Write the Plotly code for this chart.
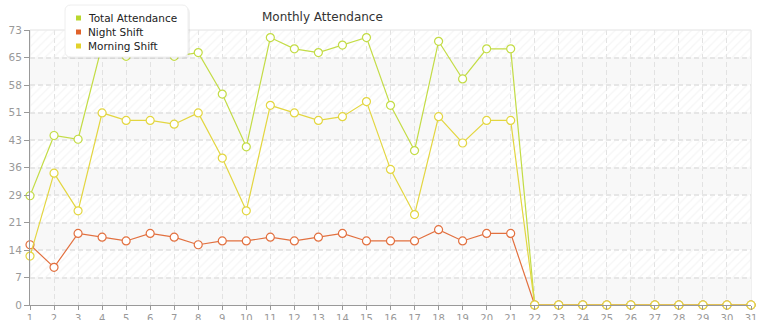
import math
import plotly.graph_objects as go

# ---------------- data ----------------
days = list(range(1, 32))
total_attendance = [29, 45, 44, 69, 66, 68, 66, 67, 56, 42, 71, 68, 67, 69, 71, 53, 41,
                    70, 60, 68, 68, 0, 0, 0, 0, 0, 0, 0, 0, 0, 0]
night_shift = [16, 10, 19, 18, 17, 19, 18, 16, 17, 17, 18, 17, 18, 19, 17, 17, 17,
               20, 17, 19, 19, 0, 0, 0, 0, 0, 0, 0, 0, 0, 0]
morning_shift = [13, 35, 25, 51, 49, 49, 48, 51, 39, 25, 53, 51, 49, 50, 54, 36, 24,
                 50, 43, 49, 49, 0, 0, 0, 0, 0, 0, 0, 0, 0, 0]
y_max = 73
y_tick_vals = [y_max * i / 10 for i in range(11)]
y_tick_text = [str(math.floor(v + 1e-9)) for v in y_tick_vals]
series_names = ["Total Attendance", "Night Shift", "Morning Shift"]

# ---------------- style ----------------
W, H = 765, 320
ML, MR, MT, MB = 30, 14, 30, 15
line_colors = ["#c3dc45", "#e2703f", "#e3d640"]
legend_colors = ["#b9d72e", "#e0622a", "#e2d22c"]
FONT = "DejaVu Sans"

def px_x(p):
    return (p - ML) / (W - ML - MR)

def px_y(p):
    return (H - MB - p) / (H - MT - MB)

fig = go.Figure()

# background bands: plain (shapes) and hatched (pattern fills)
shapes = []
for i in range(10):
    lo, hi = y_tick_vals[i], y_tick_vals[i + 1]
    if i % 2 == 0:
        shapes.append(dict(type="rect", xref="x", yref="y", x0=days[0], x1=days[-1],
                           y0=lo, y1=hi, fillcolor="#f8f8f8", line=dict(width=0),
                           layer="below"))
    else:
        fig.add_trace(go.Scatter(
            x=[days[0], days[-1], days[-1], days[0], days[0]],
            y=[lo, lo, hi, hi, lo], mode="lines", fill="toself",
            fillcolor="rgba(0,0,0,0)",
            fillpattern=dict(shape="/", fgcolor="#ebebeb", bgcolor="rgba(255,255,255,0)",
                             size=6, solidity=0.2),
            line=dict(width=0), hoverinfo="skip", showlegend=False))

# data series
for name, vals, col in zip(series_names, [total_attendance, night_shift, morning_shift],
                           line_colors):
    fig.add_trace(go.Scatter(
        x=days, y=vals, name=name, mode="lines+markers",
        line=dict(color=col, width=1.2),
        marker=dict(symbol="circle", size=8, color="white",
                    line=dict(color=col, width=1.2)),
        cliponaxis=False, showlegend=False))

# frame top/right
shapes.append(dict(type="rect", xref="paper", yref="paper", x0=0, x1=1, y0=0, y1=1,
                   line=dict(color="#e2e2e2", width=1), fillcolor="rgba(0,0,0,0)",
                   layer="below"))

# manual legend box with rounded corners + shadow
def rounded_path(x0, y0, x1, y1, r):
    X = lambda p: px_x(p)
    Y = lambda p: px_y(p)
    return (f"M {X(x0+r)},{Y(y0)} L {X(x1-r)},{Y(y0)} Q {X(x1)},{Y(y0)} {X(x1)},{Y(y0+r)} "
            f"L {X(x1)},{Y(y1-r)} Q {X(x1)},{Y(y1)} {X(x1-r)},{Y(y1)} "
            f"L {X(x0+r)},{Y(y1)} Q {X(x0)},{Y(y1)} {X(x0)},{Y(y1-r)} "
            f"L {X(x0)},{Y(y0+r)} Q {X(x0)},{Y(y0)} {X(x0+r)},{Y(y0)} Z")

shapes.append(dict(type="path", xref="paper", yref="paper",
                   path=rounded_path(66, 7, 190, 59, 6),
                   fillcolor="rgba(0,0,0,0.06)", line=dict(width=0), layer="above"))
shapes.append(dict(type="path", xref="paper", yref="paper",
                   path=rounded_path(65, 5, 188, 57, 6),
                   fillcolor="white", line=dict(color="#eeeeee", width=1), layer="above"))

annotations = []
legend_rows = [18, 32, 46]
for name, col, yc in zip(series_names, legend_colors, legend_rows):
    shapes.append(dict(type="rect", xref="paper", yref="paper",
                       x0=px_x(76), x1=px_x(81), y0=px_y(yc + 2.5), y1=px_y(yc - 2.5),
                       fillcolor=col, line=dict(width=0), layer="above"))
    annotations.append(dict(text=name, xref="paper", yref="paper", x=px_x(85.5),
                            y=px_y(yc), xanchor="left", yanchor="middle", showarrow=False,
                            font=dict(family=FONT, size=10.5, color="#222222")))

# title
annotations.append(dict(text="Monthly Attendance", xref="paper", yref="paper",
                        x=px_x(322), y=px_y(17), xanchor="center", yanchor="middle",
                        showarrow=False, font=dict(family=FONT, size=12, color="#333333")))

fig.update_layout(
    width=W, height=H, margin=dict(l=ML, r=MR, t=MT, b=MB, autoexpand=False),
    paper_bgcolor="white", plot_bgcolor="white",
    font=dict(family=FONT, size=10, color="#999999"),
    shapes=shapes, annotations=annotations, showlegend=False,
    xaxis=dict(range=[days[0], days[-1]], tickvals=days, ticktext=[str(d) for d in days],
               showline=True, linecolor="#999999", linewidth=1, automargin=False,
               ticks="outside", ticklen=4, tickcolor="#999999",
               showgrid=True, gridcolor="#e2e2e2", griddash="5px,3px", gridwidth=1,
               zeroline=False, tickfont=dict(family=FONT, size=10, color="#999999")),
    yaxis=dict(range=[0, y_max], tickvals=y_tick_vals, ticktext=y_tick_text,
               showline=True, linecolor="#999999", linewidth=1, automargin=False,
               ticks="outside", ticklen=5, tickcolor="#999999",
               showgrid=True, gridcolor="#e6e6e6", griddash="5px,3px", gridwidth=1.5,
               zeroline=False, tickfont=dict(family=FONT, size=10.5, color="#999999")),
)

fig.write_html("out.html")
